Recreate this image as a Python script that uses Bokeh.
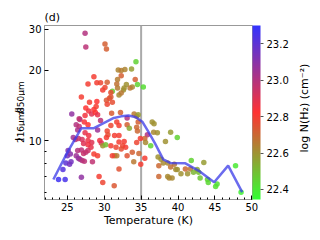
import numpy as np
from bokeh.plotting import figure
from bokeh.layouts import row
from bokeh.models import (Range1d, LinearColorMapper, ColorBar, FixedTicker,
                          PrintfTickFormatter, SingleIntervalTicker, Span, Label,
                          ColumnDataSource, Title)
from bokeh.embed import file_html
from bokeh.resources import INLINE

# ---------------- data ----------------
temperature = [
    27.4, 27.5, 30.1, 30.3, 28.6, 27.8, 29.0, 29.5, 30.4, 34.3, 31.9, 32.3, 32.8, 33.7,
    32.3, 34.2, 31.7, 33.0, 34.5, 35.3, 31.8, 31.1, 32.0, 32.6, 33.8, 33.5, 26.9, 28.0,
    29.0, 29.8, 30.1, 30.3, 30.7, 30.9, 27.5, 28.6, 28.9, 31.0, 25.6, 26.6, 27.4, 30.9,
    31.1, 30.4,
    27.9, 28.3, 28.8, 29.1, 26.7, 26.2, 26.6, 26.4, 27.3, 27.8, 29.5, 29.1, 27.4, 27.9,
    25.8, 26.1, 26.5, 27.0, 27.8, 28.3, 29.4, 29.6, 30.4, 30.5, 30.3, 30.9, 31.8, 32.7,
    32.3, 32.2, 34.05, 34.4, 34.6, 33.1, 31.7, 32.0, 33.1, 33.4, 34.6, 34.4, 34.5, 36.5,
    36.75, 37.2, 36.7, 35.85, 35.5, 34.9, 39.0, 39.9, 38.3, 35.6, 34.4, 31.4, 32.0, 32.7,
    36.3,
    32.0, 32.5, 32.9, 31.6, 32.3, 33.1, 31.4, 31.7, 33.8, 34.7, 35.5, 34.0, 34.95, 32.0,
    31.35, 37.3, 37.7, 37.4, 38.0, 38.6, 39.7, 39.5, 39.0, 39.2, 38.8, 38.6, 37.4, 40.4,
    39.9,
    23.8, 24.7, 24.4, 24.8, 25.3, 25.5, 25.0, 25.4, 25.1, 26.2, 26.5, 26.7, 27.0, 27.3,
    26.4, 26.9, 27.2, 27.5, 27.8, 27.8, 27.2, 28.2, 28.6, 29.1, 28.4, 26.9, 29.3, 29.8,
    29.8, 30.2, 30.9, 31.1,
    41.7, 41.3, 41.0, 42.1, 42.8, 42.6, 41.8, 43.5, 43.0, 44.0, 44.1, 45.1, 45.3, 47.8,
    48.55,
]
ratio = [
    28.9, 25.2, 26.0, 24.7, 18.8, 17.5, 17.7, 17.7, 17.8, 21.8, 20.1, 20.0, 20.2, 20.3,
    19.0, 18.3, 17.5, 17.4, 17.4, 17.0, 18.3, 16.3, 15.7, 16.5, 17.0, 16.8, 15.4, 14.6,
    14.7, 16.5, 16.9, 14.9, 15.2, 15.4, 13.8, 13.6, 14.0, 13.1, 13.0, 12.4, 12.8, 16.1,
    14.6, 14.3,
    13.4, 13.0, 13.2, 12.9, 12.3, 11.7, 11.5, 11.1, 12.0, 11.7, 12.2, 11.1, 10.8, 10.5,
    10.3, 10.1, 10.2, 10.1, 10.0, 9.8, 10.0, 9.75, 11.0, 10.6, 10.3, 11.6, 16.8, 16.8,
    16.0, 13.2, 13.0, 12.7, 12.9, 12.5, 12.0, 11.6, 11.7, 11.3, 12.0, 11.4, 11.0, 12.0,
    11.8, 10.8, 10.85, 10.6, 10.2, 10.2, 10.85, 10.3, 9.9, 9.8, 9.8, 10.5, 10.5, 9.9,
    9.5,
    9.85, 9.5, 9.35, 9.35, 9.2, 8.6, 8.6, 8.6, 8.9, 8.8, 8.4, 8.1, 7.9, 7.55,
    6.4, 8.5, 8.3, 7.8, 8.0, 8.0, 7.5, 7.9, 7.7, 6.9, 6.9, 7.0, 7.0, 7.2,
    7.5,
    6.8, 6.8, 7.5, 8.0, 7.9, 8.1, 8.6, 8.75, 9.05, 8.6, 8.4, 8.3, 8.2, 8.15,
    9.05, 9.1, 8.8, 8.9, 9.05, 9.6, 9.7, 9.35, 8.75, 8.6, 8.1, 6.95, 7.0, 6.6,
    9.5, 9.6, 9.5, 8.6,
    7.55, 7.2, 7.55, 7.3, 7.3, 7.5, 8.2, 8.05, 6.9, 6.8, 6.6, 6.35, 6.5, 7.8,
    6.0,
]
log_nh2 = [
    23.0, 22.98, 22.72, 22.72, 22.8, 22.8, 22.8, 22.78, 22.72, 22.45, 22.63, 22.65, 22.63, 22.58,
    22.72, 22.72, 22.68, 22.6, 22.45, 22.43, 22.65, 22.47, 22.62, 22.6, 22.62, 22.66, 22.8, 22.8,
    22.82, 22.8, 22.78, 22.74, 22.76, 22.74, 22.82, 22.82, 22.8, 22.73, 23.08, 22.97, 22.85, 22.76,
    22.76, 22.78,
    22.85, 22.9, 22.82, 22.88, 22.97, 23.0, 22.97, 23.02, 22.84, 22.82, 22.98, 23.05, 22.88, 22.86,
    23.05, 23.0, 22.95, 22.92, 22.86, 22.9, 22.85, 22.9, 22.78, 22.76, 22.8, 22.78, 22.65, 22.6,
    22.66, 22.72, 22.66, 22.64, 22.58, 23.0, 22.8, 22.8, 22.72, 22.55, 22.72, 22.7, 22.7, 22.6,
    22.6, 22.6, 22.62, 23.0, 22.7, 22.8, 22.58, 22.45, 22.6, 22.62, 22.78, 22.8, 22.8, 22.8,
    22.45,
    22.8, 22.78, 22.8, 22.78, 22.76, 22.75, 22.6, 22.66, 22.72, 22.7, 22.8, 22.66, 22.8, 22.75,
    22.74, 22.6, 22.6, 22.7, 22.62, 22.62, 22.62, 22.66, 22.68, 22.62, 22.63, 22.62, 22.7, 22.6,
    22.6,
    23.27, 23.25, 23.22, 23.2, 23.15, 23.15, 23.15, 23.1, 23.12, 23.05, 23.08, 23.05, 23.0, 22.98,
    23.0, 22.98, 22.95, 22.97, 22.95, 22.85, 22.9, 22.88, 22.8, 22.8, 22.97, 23.08, 22.8, 22.78,
    22.6, 22.5, 22.8, 22.8,
    22.66, 22.6, 22.7, 22.52, 22.5, 22.55, 22.45, 22.58, 22.48, 22.45, 22.44, 22.42, 22.42, 22.4,
    22.38,
]
median_T = [23.1, 25.0, 26.9, 28.6, 31.3, 32.3, 33.3, 34.3, 35.2, 36.0, 36.9, 38.0, 39.0, 41.0, 43.0, 44.9, 46.8, 48.7]
median_ratio = [6.8, 8.9, 11.3, 11.3, 12.5, 12.7, 12.8, 12.6, 12.0, 10.9, 9.7, 8.3, 8.0, 7.98, 7.35, 6.62, 7.8, 6.0]

y_ticks_major = [10, 20, 30]
y_ticks_minor = [6, 7, 8, 9]
cbar_ticks = [22.4, 22.6, 22.8, 23.0, 23.2]
cbar_low, cbar_high = 22.345, 23.3

# ---------------- colour map: green -> red -> blue ----------------
anchors = [(51, 255, 51), (255, 51, 51), (51, 51, 255)]
palette = []
for i in range(256):
    t = i / 255 * 2
    k = min(int(t), 1)
    f = t - k
    c0, c1 = anchors[k], anchors[k + 1]
    rgb = [round(c0[j] + (c1[j] - c0[j]) * f) for j in range(3)]
    palette.append("#%02x%02x%02x" % tuple(rgb))
mapper = LinearColorMapper(palette=palette, low=cbar_low, high=cbar_high)

FONT = "DejaVu Sans"
H = 236
LEFT_W = 25
RIGHT_W = 22

p = figure(frame_width=208, frame_height=174,
           x_range=Range1d(21.9, 50.1), y_range=Range1d(5.58, 31.2),
           y_axis_type="log", output_backend="svg", toolbar_location=None,
           min_border_left=0, min_border_top=25, min_border_bottom=37,
           min_border_right=40)
p.xgrid.visible = False
p.ygrid.visible = False
p.outline_line_color = "#999999"
p.background_fill_color = "white"
p.border_fill_color = "white"

p.title = Title(text="(d)", align="left", standoff=3, text_font=FONT,
                text_font_size="11px", text_font_style="normal", text_color="black")

p.add_layout(Span(location=35, dimension="height", line_color="#aaaaaa",
                  line_width=2, level="underlay"))

src = ColumnDataSource(dict(T=temperature, R=ratio, N=log_nh2))
p.scatter(x="T", y="R", source=src, size=5.5, line_color=None,
          fill_color={"field": "N", "transform": mapper}, fill_alpha=0.85)

p.line(median_T, median_ratio, line_color="#3a3ae8", line_alpha=0.75, line_width=2.5)

for ax in (p.xaxis[0], p.yaxis[0]):
    ax.axis_line_color = "#999999"
    ax.major_tick_line_color = "black"
    ax.minor_tick_line_color = "black"
    ax.major_tick_in = 4
    ax.major_tick_out = 0
    ax.minor_tick_in = 2
    ax.minor_tick_out = 0
    ax.major_label_text_font = FONT
    ax.major_label_text_font_size = "10px"
    ax.major_label_text_color = "black"
p.xaxis.major_label_standoff = 3
p.yaxis.major_label_standoff = 3

p.xaxis.ticker = SingleIntervalTicker(interval=5, num_minor_ticks=5)
p.yaxis.ticker = FixedTicker(ticks=y_ticks_major, minor_ticks=y_ticks_minor)
p.yaxis.formatter = PrintfTickFormatter(format="%d")
p.xaxis.axis_label = "Temperature (K)"
p.xaxis.axis_label_text_font = FONT
p.xaxis.axis_label_text_font_size = "11px"
p.xaxis.axis_label_text_font_style = "normal"
p.xaxis.axis_label_text_color = "black"
p.xaxis.axis_label_standoff = 0

cb = ColorBar(color_mapper=mapper, ticker=FixedTicker(ticks=cbar_ticks),
              formatter=PrintfTickFormatter(format="%.1f"), width=8,
              padding=0, margin=0, location=(0, 0),
              major_label_text_font=FONT, major_label_text_font_size="10px",
              major_label_text_color="black",
              major_tick_in=0, major_tick_out=3, major_tick_line_color="#555555",
              label_standoff=3, bar_line_color=None, border_line_color=None,
              background_fill_color=None)
p.add_layout(cb, "right")


def side_panel(w):
    s = figure(width=w, height=H, min_border=0,
               x_range=Range1d(0, w), y_range=Range1d(0, H),
               x_axis_location=None, y_axis_location=None,
               output_backend="svg", toolbar_location=None)
    s.grid.visible = False
    s.outline_line_color = None
    s.background_fill_color = "white"
    s.border_fill_color = "white"
    return s


# left panel: y label I_216um / I_850um, pieces centred along the text direction
left = side_panel(LEFT_W)
pieces = [("I", 81.6, 18.5, "11px"), ("216\u03bcm", 98.0, 20.5, "9px"),
          ("/I", 120.5, 18.5, "11px"), ("850\u03bcm", 139.0, 20.5, "9px")]
for txt, yy, xx, fs in pieces:
    left.add_layout(Label(x=xx, y=yy, text=txt, angle=np.pi / 2,
                          text_align="center", text_baseline="alphabetic",
                          text_font=FONT, text_font_size=fs, text_color="black"))

# right panel: colour bar label
right = side_panel(RIGHT_W)
right.add_layout(Label(x=11.5, y=H - 112, text="log N(H\u2082) (cm\u207b\u00b2)",
                       angle=np.pi / 2, text_align="center", text_baseline="alphabetic",
                       text_font=FONT, text_font_size="11px", text_color="black"))

layout = row(left, p, right, spacing=0)
open("out.html", "w").write(file_html(layout, INLINE))
